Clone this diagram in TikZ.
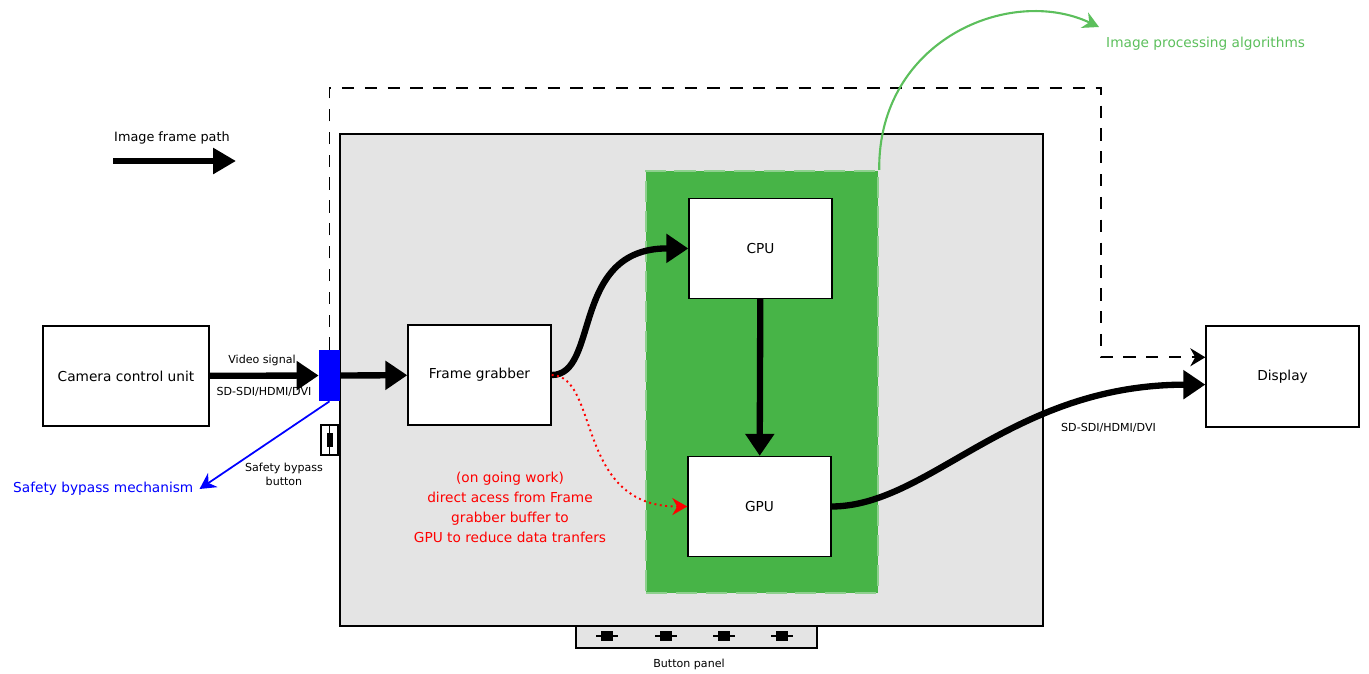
\documentclass[tikz,border=0pt]{standalone}
\usepackage{fontspec}
\setmainfont{DejaVu Sans}
\usepackage{xcolor}
\usetikzlibrary{arrows.meta,positioning}

\definecolor{boardgray}{HTML}{E4E4E4}
\definecolor{accelgreen}{HTML}{47B447}
\definecolor{accelborder}{HTML}{8ED08E}
\definecolor{algogreen}{HTML}{5CBF5C}
\definecolor{bypassblue}{HTML}{0000FF}

\begin{document}
\begin{tikzpicture}[
    x=0.02cm, y=-0.02cm,
    font=\fontsize{7.8}{9.4}\selectfont,
    unit/.style={draw, line width=0.8pt, fill=white, align=center, minimum width=2.86cm, minimum height=2cm},
    smalltext/.style={font=\fontsize{6.3}{8}\selectfont, align=center},
    flow/.style={line width=3.6pt, -{Triangle[length=4.4mm, width=5.6mm]}},
    bypass/.style={line width=1.1pt, dash pattern=on 7pt off 6pt, -{Stealth[length=3mm, width=3.6mm]}},
    pointer/.style={line width=1pt, -{Stealth[length=3.2mm, width=3.4mm]}},
    knob/.style={fill=black, minimum width=0.24cm, minimum height=0.2cm, inner sep=0pt}
]
\useasboundingbox (0,0) rectangle (1369,673);

% board and accelerator area
\node[draw, line width=0.8pt, fill=boardgray, minimum width=14.06cm, minimum height=9.84cm] (board) at (691.5,380) {};
\node[fill=accelgreen, draw=accelborder, line width=1.4pt, dash pattern=on 12pt off 5pt, minimum width=4.64cm, minimum height=8.44cm] (accel) at (762,382) {};

% units
\node[unit, minimum width=3.32cm] (ccu) at (126,376) {Camera control unit};
\node[unit] (grabber) at (479.5,375) {Frame grabber};
\node[unit] (cpu) at (760.5,248.5) {CPU};
\node[unit] (gpu) at (759.5,506.5) {GPU};
\node[unit, minimum width=3.06cm, minimum height=2.02cm] (display) at (1282.5,376.5) {Display};

% input port and safety button
\node[fill=bypassblue, minimum width=0.42cm, minimum height=1.02cm, inner sep=0pt] (port) at (329.5,375.5) {};
\node[draw, fill=white, line width=0.8pt, minimum width=0.34cm, minimum height=0.6cm, inner sep=0pt] (safebtn) at (329.5,440) {};
\draw[line width=0.6pt] (safebtn.north) -- (safebtn.south);
\node[fill=black, minimum width=0.12cm, minimum height=0.28cm, inner sep=0pt] at (safebtn) {};
\node[smalltext] (safelabel) at (284,474) {Safety bypass\\button};

% button panel
\node[draw, line width=0.8pt, fill=boardgray, minimum width=4.82cm, minimum height=0.44cm, inner sep=0pt] (panel) at (696.5,637) {};
\foreach \bx in {607,666,724,782} {
  \draw[line width=0.6pt] (\bx-11,636) -- (\bx+11,636);
  \node[knob] at (\bx,636) {};
}
\node[smalltext] (panellabel) at (689,664) {Button panel};

% legend
\node (legend) at (172,138) {\fontsize{7.3}{9}\selectfont Image frame path};
\coordinate (legendA) at (113,161);
\coordinate (legendB) at (236,161);
\draw[flow, -{Triangle[length=4.6mm, width=5mm]}] (legendA) -- (legendB);

% frame path
\draw[flow] (ccu) -- (port);
\node[smalltext] at (262,360) {Video signal};
\node[smalltext] at (264,392) {SD-SDI/HDMI/DVI};
\draw[flow] (port) -- (grabber);
\draw[flow] (grabber.east) .. controls (600,375) and (570,248) .. (cpu.west);
\draw[flow] (cpu) -- (gpu);
\draw[flow] (gpu.east) .. controls (930,506) and (1010,385) .. (display.186);
\node[smalltext, anchor=west] at (1055,428) {SD-SDI/HDMI/DVI};

% bypass path
\coordinate (bypasstop) at (1101,88);
\draw[bypass] (port.north) |- (bypasstop) |- (display.166);

% safety mechanism
\node[text=bypassblue, anchor=west] (safemech) at (7,489) {Safety bypass mechanism};
\draw[pointer, bypassblue] (port.south) -- (safemech.east);

% ongoing work
\draw[red, line width=1.1pt, dotted, -{Stealth[length=3mm, width=3.4mm]}] (grabber.east) .. controls (600,376) and (575,507) .. (gpu.west);
\node[text=red, align=center, font=\fontsize{7.8}{11.4}\selectfont] (ongoing) at (510,507) {(on going work)\\direct acess from Frame\\grabber buffer to\\GPU to reduce data tranfers};

% algorithms
\node[text=algogreen, anchor=west] (algos) at (1100,44) {Image processing algorithms};
\coordinate (algotip) at (1099,27);
\draw[pointer, algogreen, line width=1.2pt] (accel.north east) .. controls (878,40) and (1010,-15) .. (algotip);
\end{tikzpicture}
\end{document}
